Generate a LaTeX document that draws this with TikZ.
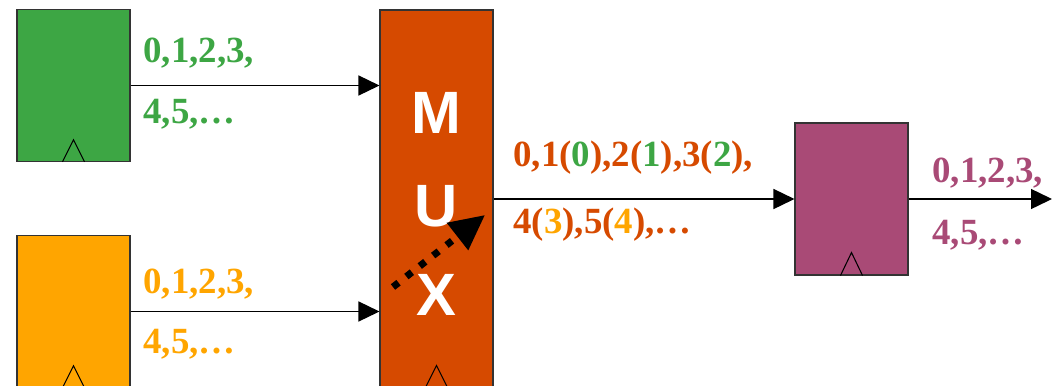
\documentclass[tikz,border=0pt]{standalone}
\usepackage{fontspec}
\setmainfont{Liberation Serif}
\setsansfont{Liberation Sans}
\usetikzlibrary{positioning,arrows.meta,calc}

\definecolor{reggreen}{RGB}{61,166,68}
\definecolor{regorange}{RGB}{255,165,0}
\definecolor{muxred}{RGB}{214,74,0}
\definecolor{regpurple}{RGB}{169,74,118}

\begin{document}
\begin{tikzpicture}[
  regbox/.style={rectangle,draw=black!80,line width=0.6pt,fill=#1,minimum width=2.26cm,minimum height=3.03cm,inner sep=0pt},
  muxbox/.style={rectangle,draw=black!80,line width=0.6pt,fill=muxred,minimum width=2.26cm,minimum height=7.54cm,inner sep=0pt},
  muxletter/.style={text=white,font=\sffamily\bfseries\fontsize{34}{34}\selectfont,inner sep=0pt,anchor=base},
  seqlabel/.style={text=#1,font=\bfseries\fontsize{21}{25}\selectfont,inner sep=0pt,anchor=base west},
  arr/.style={-{Triangle[length=0.42cm,width=0.4cm]},line width=0.8pt},
  selarr/.style={-{Triangle[length=0.7cm,width=0.66cm]},line width=0.14cm,dash pattern=on 0.14cm off 0.2cm},
  clk/.style={line width=0.6pt},
]
\useasboundingbox (0,0) rectangle (21.04,-7.7);

% === input registers ===
\node[regbox=reggreen] (greg) at (1.47,-1.71) {};
\node[regbox=regorange] (oreg) at (1.47,-6.23) {};

% === multiplexer ===
\node[muxbox] (mux) at (8.73,-3.97) {};
\node[muxletter] (muxM) at (8.73,-2.66) {M};
\node[muxletter] (muxU) at (8.73,-4.52) {U};
\node[muxletter] (muxX) at (8.73,-6.30) {X};

% === output register ===
\node[regbox=regpurple,minimum height=3.04cm] (preg) at (17.03,-3.98) {};
\coordinate (outend) at (21.04,-3.98);

% clock inputs
\draw[clk] ($(greg.south)+(-0.22,0)$) -- ++(0.22,0.44) -- ++(0.22,-0.44);
\draw[clk] ($(oreg.south)+(-0.22,0)$) -- ++(0.22,0.44) -- ++(0.22,-0.44);
\draw[clk] ($(mux.south)+(-0.22,0)$) -- ++(0.22,0.44) -- ++(0.22,-0.44);
\draw[clk] ($(preg.south)+(-0.22,0)$) -- ++(0.22,0.46) -- ++(0.22,-0.46);

% data paths
\draw[arr] (greg.east) -- (greg.east -| mux.west);
\draw[arr] (oreg.east) -- (oreg.east -| mux.west);
\draw[arr] (mux.east |- preg.west) -- (preg.west);
\draw[arr] (preg.east) -- (outend);

% select switching
\coordinate (selfrom) at (7.86,-5.74);
\coordinate (selto) at (9.70,-4.30);
\draw[selarr] (selfrom) -- (selto);

% sequences
\node[seqlabel=reggreen] (gseq1) at (2.86,-1.24) {0,1,2,3,};
\node[seqlabel=reggreen] (gseq2) at (2.86,-2.46) {4,5,…};
\node[seqlabel=regorange] (oseq1) at (2.86,-5.86) {0,1,2,3,};
\node[seqlabel=regorange] (oseq2) at (2.86,-7.06) {4,5,…};
\node[seqlabel=muxred] (mseq1) at (10.26,-3.32) {0,1(\textcolor{reggreen}{0}),2(\textcolor{reggreen}{1}),3(\textcolor{reggreen}{2}),};
\node[seqlabel=muxred] (mseq2) at (10.26,-4.66) {4(\textcolor{regorange}{3}),5(\textcolor{regorange}{4}),…};
\node[seqlabel=regpurple] (pseq1) at (18.64,-3.64) {0,1,2,3,};
\node[seqlabel=regpurple] (pseq2) at (18.64,-4.88) {4,5,…};

\end{tikzpicture}
\end{document}
